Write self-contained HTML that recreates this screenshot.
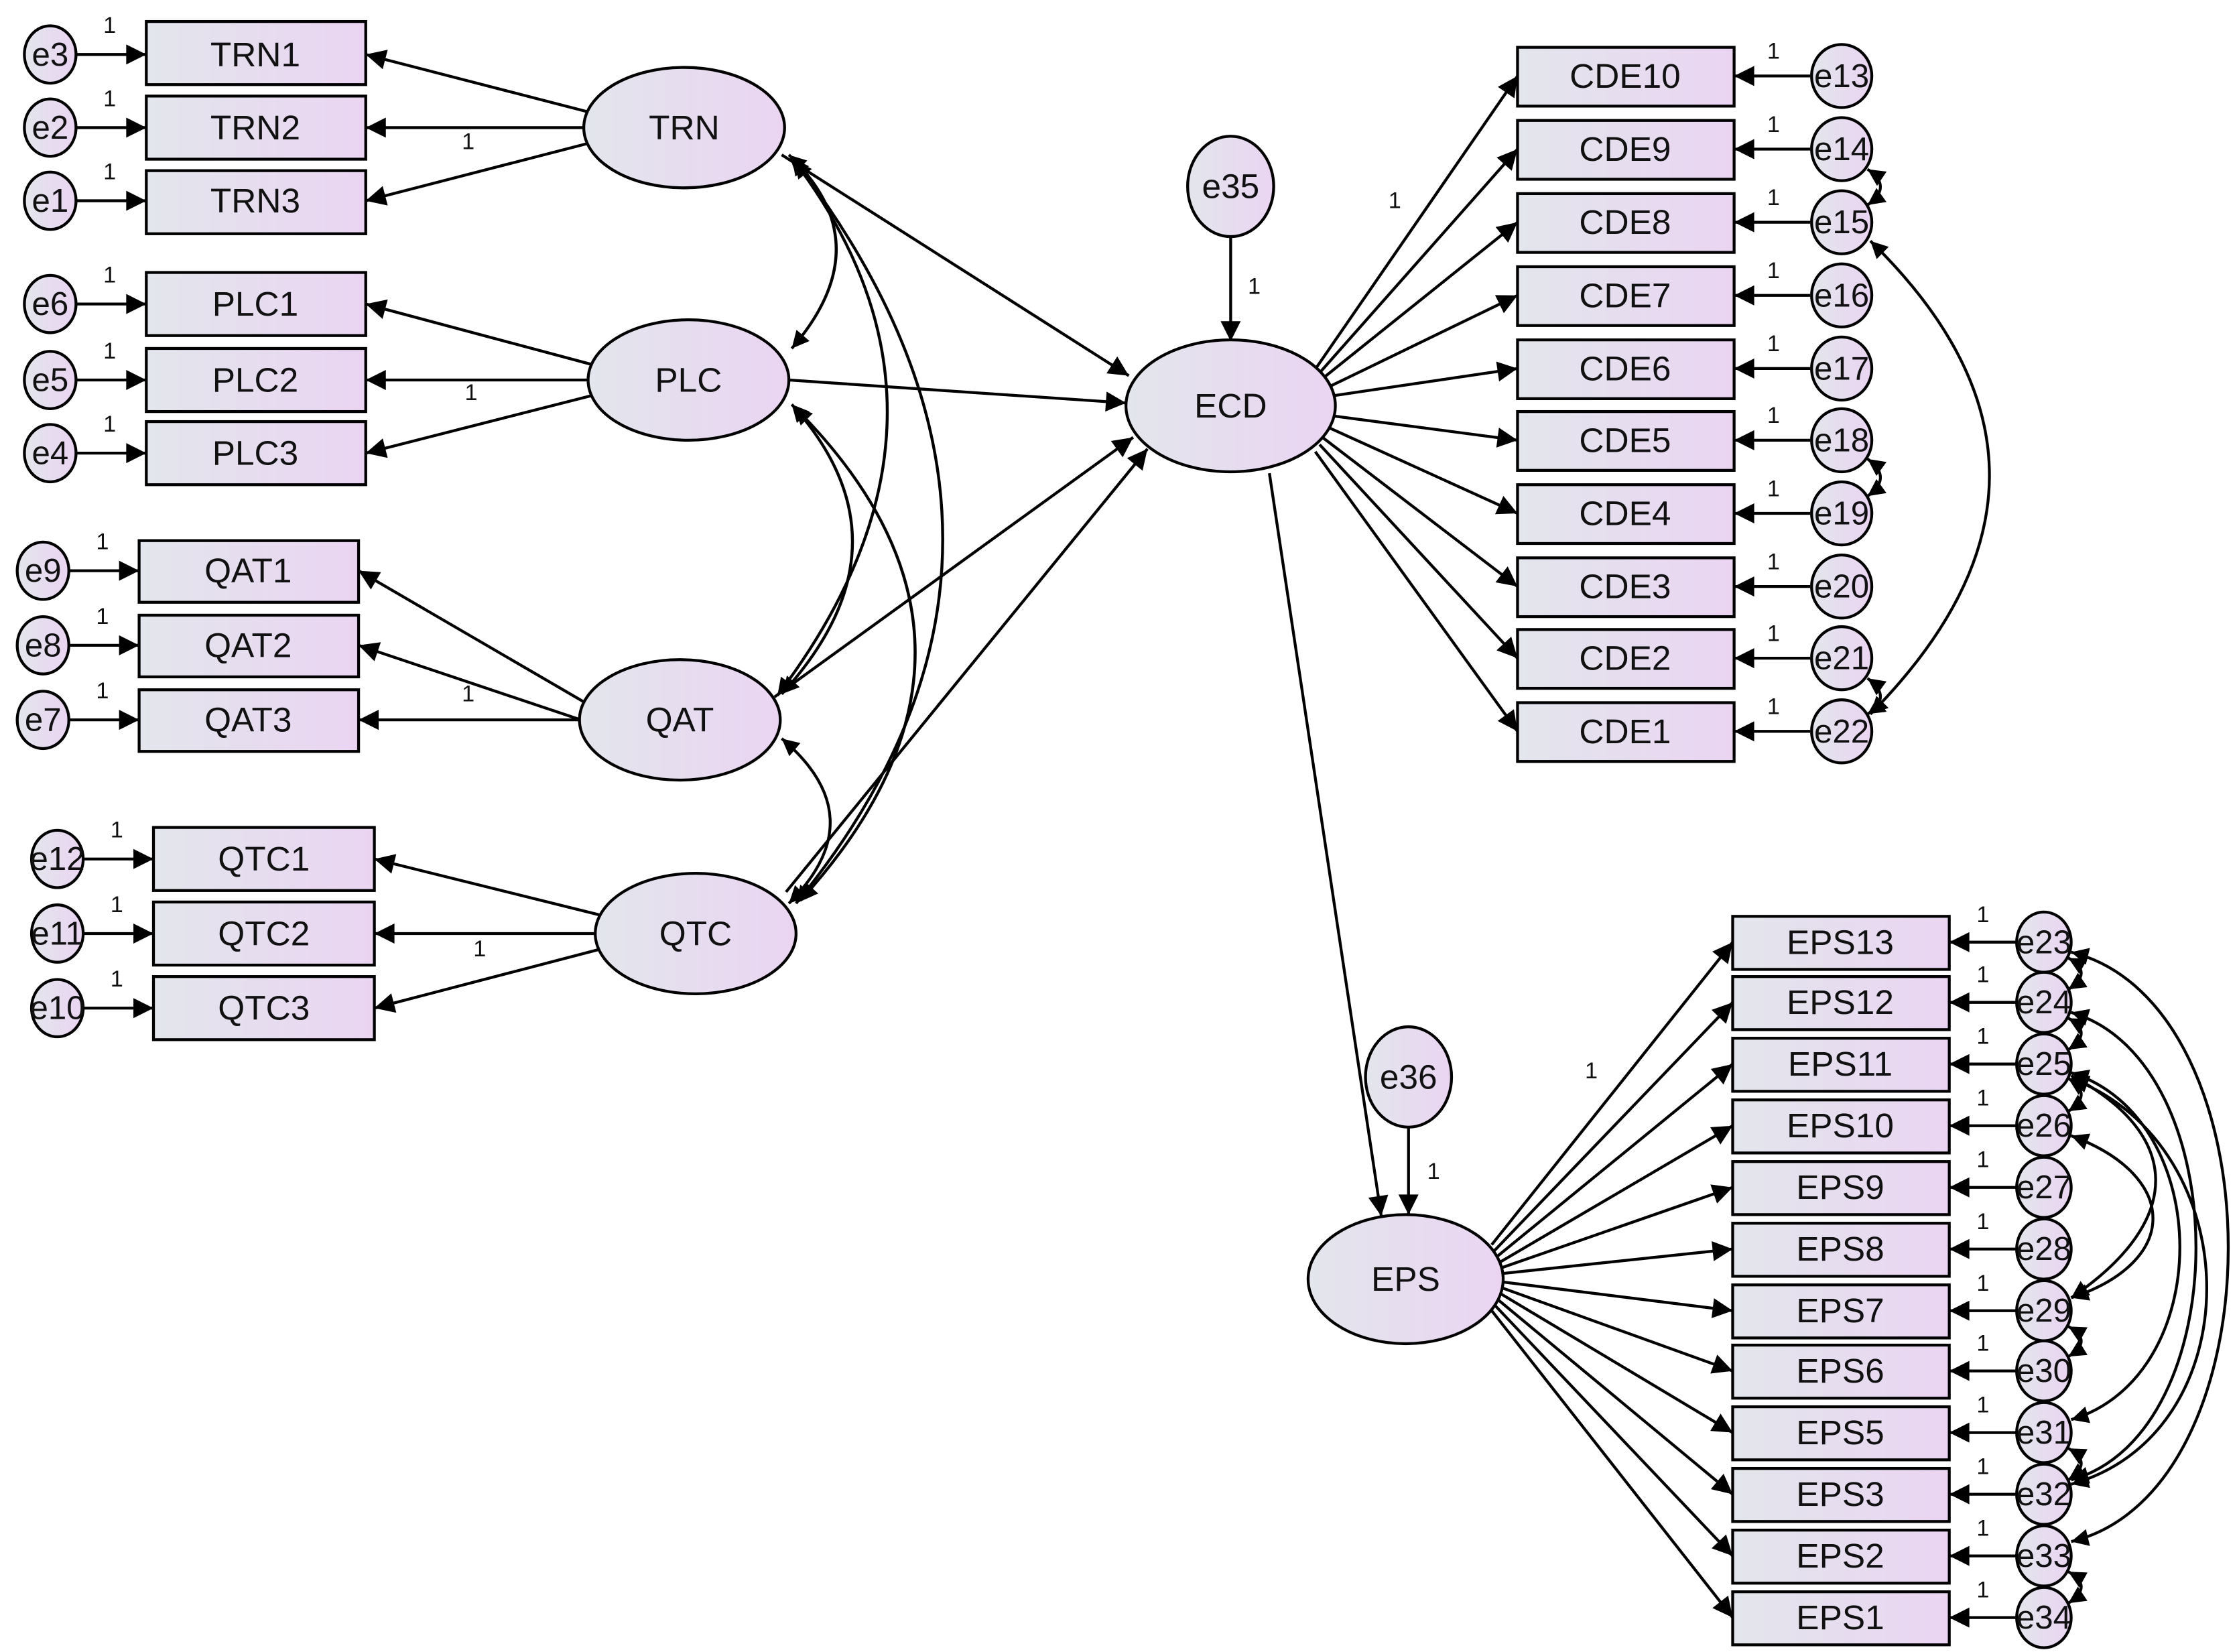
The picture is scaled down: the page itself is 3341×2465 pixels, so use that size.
<!DOCTYPE html>
<html><head><meta charset="utf-8"><style>html,body{margin:0;padding:0;background:#fff}svg{display:block}</style></head><body>
<svg width="3341" height="2465" viewBox="0 0 1561 1152" preserveAspectRatio="none" xmlns="http://www.w3.org/2000/svg" font-family="Liberation Sans, sans-serif">
<defs>
<linearGradient id="g" x1="0" x2="1" y1="0" y2="0"><stop offset="0" stop-color="#e3e6ec"/><stop offset="1" stop-color="#ead4f2"/></linearGradient>
<marker id="a" viewBox="0 0 10 10" refX="10" refY="5" markerWidth="24" markerHeight="14" markerUnits="userSpaceOnUse" orient="auto"><path d="M0,0L10,5L0,10z" fill="#000"/></marker>
<marker id="s" viewBox="0 0 10 10" refX="10" refY="5" markerWidth="20" markerHeight="12" markerUnits="userSpaceOnUse" orient="auto-start-reverse"><path d="M0,0L10,5L0,10z" fill="#000"/></marker>
</defs>
<g stroke="#000" stroke-width="2" fill="none" marker-end="url(#a)">
<path d="M53,38H102"/><path d="M53,89H102"/><path d="M53,140H102"/><path d="M53,212H102"/><path d="M53,265H102"/><path d="M53,316H102"/><path d="M48,398H97"/><path d="M48,450H97"/><path d="M48,502H97"/><path d="M58,599H107"/><path d="M58,651H107"/><path d="M58,703H107"/>
<path d="M410,78L255,38"/><path d="M407,89L255,89"/><path d="M410,100L255,140"/><path d="M412,254L255,212"/><path d="M410,265L255,265"/><path d="M412,276L255,316"/><path d="M408,490L250,398"/><path d="M405,502L250,450"/><path d="M408,502L250,502"/><path d="M418,638L261,599"/><path d="M415,651L261,651"/><path d="M418,662L261,703"/>
<path d="M545,108L787,262"/><path d="M550,265L785,281"/><path d="M540,486L790,305"/><path d="M548,622L800,313"/><path d="M858,165V238"/><path d="M885,330L963,848"/><path d="M982,786V847"/>
<path d="M918,256L1058,53"/><path d="M920,260L1058,104"/><path d="M922,264L1058,155"/><path d="M926,270L1058,206"/><path d="M929,276L1058,257"/><path d="M929,290L1058,307"/><path d="M926,298L1058,358"/><path d="M922,305L1058,409"/><path d="M920,310L1058,459"/><path d="M917,315L1058,510"/>
<path d="M1262,53H1209"/><path d="M1262,104H1209"/><path d="M1262,155H1209"/><path d="M1262,206H1209"/><path d="M1262,257H1209"/><path d="M1262,307H1209"/><path d="M1262,358H1209"/><path d="M1262,409H1209"/><path d="M1262,459H1209"/><path d="M1262,510H1209"/>
<path d="M1040,868L1208,657"/><path d="M1042,872L1208,699"/><path d="M1044,876L1208,742"/><path d="M1046,880L1208,785"/><path d="M1047,884L1208,828"/><path d="M1048,888L1208,871"/><path d="M1048,894L1208,914"/><path d="M1047,898L1208,956"/><path d="M1046,902L1208,999"/><path d="M1044,906L1208,1042"/><path d="M1042,910L1208,1085"/><path d="M1040,914L1208,1128"/>
<path d="M1406,657H1359"/><path d="M1406,699H1359"/><path d="M1406,742H1359"/><path d="M1406,785H1359"/><path d="M1406,828H1359"/><path d="M1406,871H1359"/><path d="M1406,914H1359"/><path d="M1406,956H1359"/><path d="M1406,999H1359"/><path d="M1406,1042H1359"/><path d="M1406,1085H1359"/><path d="M1406,1128H1359"/>
</g>
<g stroke="#000" stroke-width="2" fill="none" marker-start="url(#s)" marker-end="url(#s)">
<path d="M550,108Q615,170 552,243"/>
<path d="M552,110Q690,290 542,485"/>
<path d="M554,112Q760,380 555,630"/>
<path d="M552,282Q640,380 545,484"/>
<path d="M554,284Q720,450 558,628"/>
<path d="M545,515Q610,570 550,630"/>
<path d="M1302,118Q1320,130 1302,143"/>
<path d="M1302,320Q1320,333 1302,346"/>
<path d="M1302,473Q1320,486 1302,498"/>
<path d="M1304,168Q1470,330 1304,498"/>
<path d="M1442,668Q1460,678 1442,690"/>
<path d="M1442,710Q1460,720 1442,732"/>
<path d="M1442,752Q1460,763 1442,775"/>
<path d="M1442,925Q1460,935 1442,946"/>
<path d="M1442,1010Q1460,1020 1442,1032"/>
<path d="M1442,1096Q1460,1106 1442,1118"/>
<path d="M1444,664C1590,700 1590,1040 1444,1075"/>
<path d="M1444,706C1560,740 1560,1000 1444,1032"/>
<path d="M1444,748C1545,780 1545,960 1444,990"/>
<path d="M1444,792C1520,820 1520,880 1444,905"/>
<path d="M1444,750C1520,790 1525,850 1444,905"/>
<path d="M1444,752C1570,800 1570,1000 1444,1035"/>
</g>
<g stroke="#000" stroke-width="2" fill="url(#g)">
<rect x="102" y="15" width="153" height="44"/><rect x="102" y="67" width="153" height="44"/><rect x="102" y="119" width="153" height="44"/>
<rect x="102" y="190" width="153" height="44"/><rect x="102" y="243" width="153" height="44"/><rect x="102" y="294" width="153" height="44"/>
<rect x="97" y="377" width="153" height="43"/><rect x="97" y="429" width="153" height="43"/><rect x="97" y="481" width="153" height="43"/>
<rect x="107" y="577" width="154" height="44"/><rect x="107" y="629" width="154" height="44"/><rect x="107" y="681" width="154" height="44"/>
<rect x="1058" y="33" width="151" height="41"/><rect x="1058" y="84" width="151" height="41"/><rect x="1058" y="135" width="151" height="41"/><rect x="1058" y="186" width="151" height="41"/><rect x="1058" y="237" width="151" height="41"/><rect x="1058" y="287" width="151" height="41"/><rect x="1058" y="338" width="151" height="41"/><rect x="1058" y="389" width="151" height="41"/><rect x="1058" y="439" width="151" height="41"/><rect x="1058" y="490" width="151" height="41"/>
<rect x="1208" y="639" width="151" height="37"/><rect x="1208" y="681" width="151" height="37"/><rect x="1208" y="724" width="151" height="37"/><rect x="1208" y="767" width="151" height="37"/><rect x="1208" y="810" width="151" height="37"/><rect x="1208" y="853" width="151" height="37"/><rect x="1208" y="896" width="151" height="37"/><rect x="1208" y="938" width="151" height="37"/><rect x="1208" y="981" width="151" height="37"/><rect x="1208" y="1024" width="151" height="37"/><rect x="1208" y="1067" width="151" height="37"/><rect x="1208" y="1110" width="151" height="37"/>
<ellipse cx="477" cy="89" rx="70" ry="42"/><ellipse cx="480" cy="265" rx="70" ry="42"/><ellipse cx="474" cy="502" rx="70" ry="42"/><ellipse cx="485" cy="651" rx="70" ry="42"/>
<ellipse cx="858" cy="283" rx="73" ry="46"/><ellipse cx="980" cy="892" rx="68" ry="45"/>
<ellipse cx="858" cy="130" rx="30" ry="35"/><ellipse cx="982" cy="751" rx="30" ry="35"/>
<ellipse cx="35" cy="38" rx="18" ry="20"/><ellipse cx="35" cy="89" rx="18" ry="20"/><ellipse cx="35" cy="140" rx="18" ry="20"/><ellipse cx="35" cy="212" rx="18" ry="20"/><ellipse cx="35" cy="265" rx="18" ry="20"/><ellipse cx="35" cy="316" rx="18" ry="20"/>
<ellipse cx="30" cy="398" rx="18" ry="20"/><ellipse cx="30" cy="450" rx="18" ry="20"/><ellipse cx="30" cy="502" rx="18" ry="20"/>
<ellipse cx="40" cy="599" rx="18" ry="20"/><ellipse cx="40" cy="651" rx="18" ry="20"/><ellipse cx="40" cy="703" rx="18" ry="20"/>
<ellipse cx="1284" cy="53" rx="21" ry="22"/><ellipse cx="1284" cy="104" rx="21" ry="22"/><ellipse cx="1284" cy="155" rx="21" ry="22"/><ellipse cx="1284" cy="206" rx="21" ry="22"/><ellipse cx="1284" cy="257" rx="21" ry="22"/><ellipse cx="1284" cy="307" rx="21" ry="22"/><ellipse cx="1284" cy="358" rx="21" ry="22"/><ellipse cx="1284" cy="409" rx="21" ry="22"/><ellipse cx="1284" cy="459" rx="21" ry="22"/><ellipse cx="1284" cy="510" rx="21" ry="22"/>
<ellipse cx="1425" cy="657" rx="19" ry="21"/><ellipse cx="1425" cy="699" rx="19" ry="21"/><ellipse cx="1425" cy="742" rx="19" ry="21"/><ellipse cx="1425" cy="785" rx="19" ry="21"/><ellipse cx="1425" cy="828" rx="19" ry="21"/><ellipse cx="1425" cy="871" rx="19" ry="21"/><ellipse cx="1425" cy="914" rx="19" ry="21"/><ellipse cx="1425" cy="956" rx="19" ry="21"/><ellipse cx="1425" cy="999" rx="19" ry="21"/><ellipse cx="1425" cy="1042" rx="19" ry="21"/><ellipse cx="1425" cy="1085" rx="19" ry="21"/><ellipse cx="1425" cy="1128" rx="19" ry="21"/>
</g>
<g font-size="24" text-anchor="middle" dominant-baseline="central" fill="#111">
<text x="178" y="38">TRN1</text><text x="178" y="89">TRN2</text><text x="178" y="140">TRN3</text>
<text x="178" y="212">PLC1</text><text x="178" y="265">PLC2</text><text x="178" y="316">PLC3</text>
<text x="173" y="398">QAT1</text><text x="173" y="450">QAT2</text><text x="173" y="502">QAT3</text>
<text x="184" y="599">QTC1</text><text x="184" y="651">QTC2</text><text x="184" y="703">QTC3</text>
<text x="477" y="89">TRN</text><text x="480" y="265">PLC</text><text x="474" y="502">QAT</text><text x="485" y="651">QTC</text>
<text x="858" y="283">ECD</text><text x="980" y="892">EPS</text><text x="858" y="130">e35</text><text x="982" y="751">e36</text>
<text x="1133" y="53">CDE10</text><text x="1133" y="104">CDE9</text><text x="1133" y="155">CDE8</text><text x="1133" y="206">CDE7</text><text x="1133" y="257">CDE6</text><text x="1133" y="307">CDE5</text><text x="1133" y="358">CDE4</text><text x="1133" y="409">CDE3</text><text x="1133" y="459">CDE2</text><text x="1133" y="510">CDE1</text>
<text x="1283" y="657">EPS13</text><text x="1283" y="699">EPS12</text><text x="1283" y="742">EPS11</text><text x="1283" y="785">EPS10</text><text x="1283" y="828">EPS9</text><text x="1283" y="871">EPS8</text><text x="1283" y="914">EPS7</text><text x="1283" y="956">EPS6</text><text x="1283" y="999">EPS5</text><text x="1283" y="1042">EPS3</text><text x="1283" y="1085">EPS2</text><text x="1283" y="1128">EPS1</text>
</g>
<g font-size="23" text-anchor="middle" dominant-baseline="central" fill="#111">
<text x="35" y="38">e3</text><text x="35" y="89">e2</text><text x="35" y="140">e1</text><text x="35" y="212">e6</text><text x="35" y="265">e5</text><text x="35" y="316">e4</text>
<text x="30" y="398">e9</text><text x="30" y="450">e8</text><text x="30" y="502">e7</text><text x="40" y="599">e12</text><text x="40" y="651">e11</text><text x="40" y="703">e10</text>
<text x="1284" y="53">e13</text><text x="1284" y="104">e14</text><text x="1284" y="155">e15</text><text x="1284" y="206">e16</text><text x="1284" y="257">e17</text><text x="1284" y="307">e18</text><text x="1284" y="358">e19</text><text x="1284" y="409">e20</text><text x="1284" y="459">e21</text><text x="1284" y="510">e22</text>
<text x="1425" y="657">e23</text><text x="1425" y="699">e24</text><text x="1425" y="742">e25</text><text x="1425" y="785">e26</text><text x="1425" y="828">e27</text><text x="1425" y="871">e28</text><text x="1425" y="914">e29</text><text x="1425" y="956">e30</text><text x="1425" y="999">e31</text><text x="1425" y="1042">e32</text><text x="1425" y="1085">e33</text><text x="1425" y="1128">e34</text>
</g>
<g font-size="16" fill="#111">
<text x="72" y="23">1</text><text x="72" y="74">1</text><text x="72" y="125">1</text><text x="72" y="197">1</text><text x="72" y="250">1</text><text x="72" y="301">1</text>
<text x="67" y="383">1</text><text x="67" y="435">1</text><text x="67" y="487">1</text><text x="77" y="584">1</text><text x="77" y="636">1</text><text x="77" y="688">1</text>
<text x="322" y="104">1</text><text x="324" y="279">1</text><text x="322" y="489">1</text><text x="330" y="667">1</text>
<text x="870" y="205">1</text><text x="995" y="822">1</text><text x="968" y="145">1</text><text x="1105" y="752">1</text>
<text x="1232" y="41">1</text><text x="1232" y="92">1</text><text x="1232" y="143">1</text><text x="1232" y="194">1</text><text x="1232" y="245">1</text><text x="1232" y="295">1</text><text x="1232" y="346">1</text><text x="1232" y="397">1</text><text x="1232" y="447">1</text><text x="1232" y="498">1</text>
<text x="1378" y="643">1</text><text x="1378" y="685">1</text><text x="1378" y="728">1</text><text x="1378" y="771">1</text><text x="1378" y="814">1</text><text x="1378" y="857">1</text><text x="1378" y="900">1</text><text x="1378" y="942">1</text><text x="1378" y="985">1</text><text x="1378" y="1028">1</text><text x="1378" y="1071">1</text><text x="1378" y="1114">1</text>
</g>
</svg>
</body></html>
